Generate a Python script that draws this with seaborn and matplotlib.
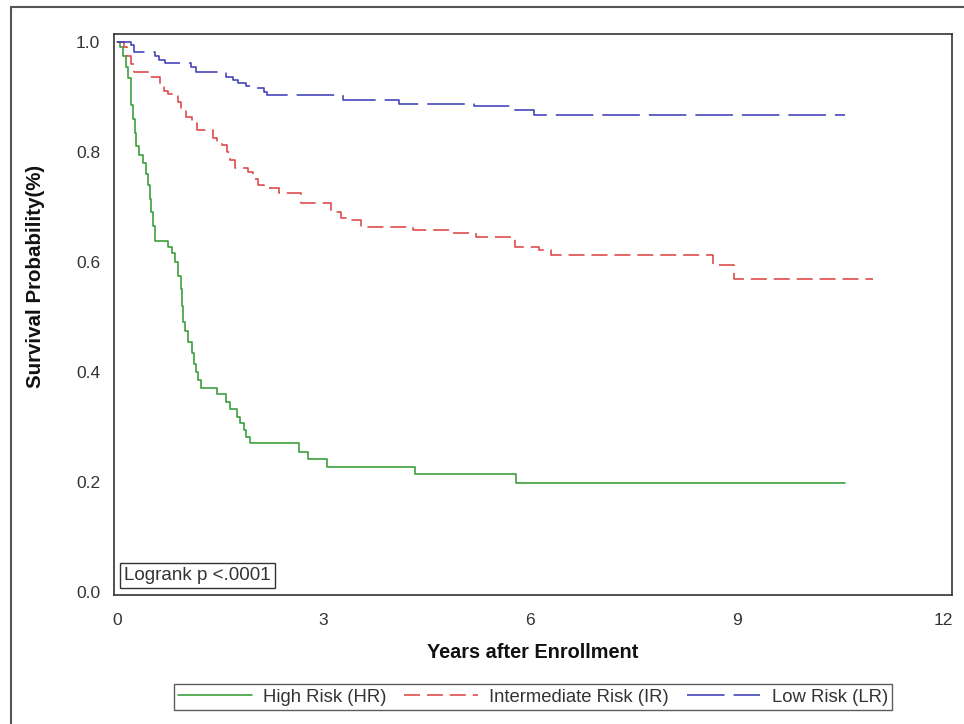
import numpy as np
import pandas as pd
import matplotlib
matplotlib.use("Agg")
import matplotlib.pyplot as plt
from matplotlib.lines import Line2D
import seaborn as sns

# ---- data ----
hr_time = [0, 0.04, 0.09, 0.13, 0.17, 0.20, 0.21, 0.23, 0.26, 0.28, 0.32, 0.38, 0.43, 0.45,
           0.48, 0.50, 0.53, 0.55, 0.74, 0.80, 0.85, 0.89, 0.93, 0.95, 0.96, 0.99, 1.03,
           1.09, 1.12, 1.15, 1.18, 1.22, 1.45, 1.58, 1.65, 1.75, 1.79, 1.84, 1.88, 1.93,
           2.64, 2.77, 3.05, 4.33, 5.79, 10.57]
hr_surv = [1.0, 0.99, 0.975, 0.955, 0.935, 0.91, 0.885, 0.86, 0.835, 0.81, 0.795, 0.78, 0.76, 0.74,
           0.715, 0.69, 0.665, 0.638, 0.627, 0.616, 0.60, 0.575, 0.55, 0.52, 0.49, 0.475, 0.455,
           0.435, 0.415, 0.40, 0.385, 0.371, 0.36, 0.346, 0.333, 0.318, 0.307, 0.295, 0.282, 0.271,
           0.255, 0.241, 0.228, 0.214, 0.198, 0.198]

ir_time = [0, 0.10, 0.15, 0.20, 0.25, 0.47, 0.63, 0.68, 0.75, 0.89, 0.93, 1.01, 1.09, 1.17,
           1.40, 1.45, 1.53, 1.60, 1.65, 1.72, 1.90, 1.98, 2.05, 2.13, 2.35, 2.68, 3.11, 3.25,
           3.35, 3.55, 4.30, 4.85, 5.22, 5.78, 6.12, 6.30, 8.65, 8.95, 10.97]
ir_surv = [1.0, 0.99, 0.975, 0.96, 0.945, 0.936, 0.922, 0.91, 0.905, 0.89, 0.876, 0.864, 0.853, 0.84,
           0.825, 0.818, 0.813, 0.80, 0.785, 0.77, 0.764, 0.75, 0.74, 0.735, 0.725, 0.707, 0.69, 0.68,
           0.676, 0.664, 0.658, 0.652, 0.646, 0.627, 0.622, 0.613, 0.595, 0.569, 0.569]

lr_time = [0, 0.20, 0.25, 0.55, 0.62, 0.70, 1.08, 1.15, 1.58, 1.68, 1.76, 1.88, 1.96, 2.13,
           2.18, 3.28, 4.10, 5.18, 5.75, 6.05, 10.57]
lr_surv = [1.0, 0.995, 0.982, 0.975, 0.967, 0.962, 0.955, 0.945, 0.936, 0.931, 0.925, 0.92, 0.916, 0.909,
           0.904, 0.895, 0.888, 0.884, 0.876, 0.867, 0.867]

groups = ["High Risk (HR)", "Intermediate Risk (IR)", "Low Risk (LR)"]
x_ticks = [0, 3, 6, 9, 12]
y_ticks = [0.0, 0.2, 0.4, 0.6, 0.8, 1.0]
x_label = "Years after Enrollment"
y_label = "Survival Probability(%)"
annot = "Logrank p <.0001"

df = pd.concat([
    pd.DataFrame({"time": hr_time, "surv": hr_surv, "group": groups[0]}),
    pd.DataFrame({"time": ir_time, "surv": ir_surv, "group": groups[1]}),
    pd.DataFrame({"time": lr_time, "surv": lr_surv, "group": groups[2]}),
], ignore_index=True)

# ---- style ----
sns.set_theme(style="white")
plt.rcParams["font.family"] = ["Liberation Sans", "DejaVu Sans"]
plt.rcParams["lines.scale_dashes"] = False

colors = {groups[0]: "#359a35", groups[1]: "#de4444", groups[2]: "#3e3eb8"}
dashes = {groups[0]: "", groups[1]: (11.5, 5), groups[2]: (27, 6.5)}

W, H = 964, 724
fig = plt.figure(figsize=(W / 100, H / 100), dpi=100)
ax = fig.add_axes([114 / W, 1 - 595 / H, (952 - 114) / W, (595 - 34) / H])

sns.lineplot(data=df, x="time", y="surv", hue="group", style="group",
             palette=colors, dashes=dashes, estimator=None, sort=False,
             drawstyle="steps-post", linewidth=1.15, ax=ax)

ax.set_xlim(-0.04, 12.12)
ax.set_ylim(-0.0055, 1.0145)
ax.set_xticks(x_ticks)
ax.set_xticklabels([str(v) for v in x_ticks])
ax.set_yticks(y_ticks)
ax.set_yticklabels([f"{v:.1f}" for v in y_ticks])
ax.tick_params(axis="both", direction="out", length=6, width=1.0, colors="#333333",
               labelsize=12.5, labelcolor="#333333")
ax.tick_params(axis="x", pad=7)
ax.tick_params(axis="y", pad=4)
for s in ax.spines.values():
    s.set_color("#333333")
    s.set_linewidth(1.2)

ax.set_xlabel(x_label, fontsize=14.3, fontweight="bold", color="#111111", labelpad=11)
ax.set_ylabel(y_label, fontsize=14.8, fontweight="bold", color="#111111")
ax.yaxis.set_label_coords(-0.0823, 0.567)

ax.text(0.012, 0.020, annot, transform=ax.transAxes, ha="left", va="bottom",
        fontsize=13.5, color="#333333",
        bbox=dict(boxstyle="square,pad=0.22", fc="white", ec="#333333", lw=1.0))

handles, labels = ax.get_legend_handles_labels()
ax.get_legend().remove()
leg = fig.legend(handles, labels, loc="center", bbox_to_anchor=(533 / W, 1 - 697 / H),
                 ncol=3, frameon=True, fontsize=13.3, handlelength=4.0, columnspacing=0.95,
                 handletextpad=0.6, borderpad=0.22, borderaxespad=0, fancybox=False,
                 labelcolor="#333333")
leg.get_frame().set_edgecolor("#333333")
leg.get_frame().set_linewidth(1.0)

# outer frame (left and top edges visible)
fig.add_artist(Line2D([11 / W, 11 / W], [0, 1 - 7 / H], transform=fig.transFigure,
                      color="#555555", lw=1.5))
fig.add_artist(Line2D([11 / W, 1], [1 - 7 / H, 1 - 7 / H], transform=fig.transFigure,
                      color="#555555", lw=1.5))

fig.savefig("out.png", dpi=100)
